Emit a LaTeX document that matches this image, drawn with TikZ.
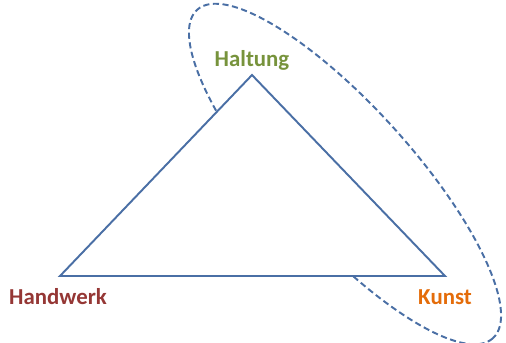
\documentclass[tikz,border=0pt]{standalone}
\usepackage{fontspec}
\setmainfont{Carlito}
\definecolor{lineblue}{HTML}{4A6FA5}
\definecolor{hgreen}{HTML}{77933C}
\definecolor{hred}{HTML}{953735}
\definecolor{korange}{HTML}{E46C0A}
\tikzset{
  lbl/.style={font=\fontsize{13}{15}\selectfont\bfseries, inner sep=0pt},
  tri/.style={draw=lineblue, line width=1.1pt, line join=miter, fill=white},
  oval/.style={draw=lineblue, line width=1.1pt, dash pattern=on 3.5pt off 2pt}
}
\begin{document}
\begin{tikzpicture}[x=0.02cm,y=-0.02cm]
\useasboundingbox (0,0) rectangle (506,342);
\coordinate (top) at (252,75);
\coordinate (left) at (60,276);
\coordinate (right) at (445,276);
\draw[oval, rotate around={-48:(345,174)}] (345,174) ellipse [x radius=221, y radius=67];
\draw[tri] (top) -- (right) -- (left) -- cycle;
\node[lbl, text=hgreen] (haltung) at (252,60) {Haltung};
\node[lbl, text=hred] (handwerk) at (58,297) {Handwerk};
\node[lbl, text=korange] (kunst) at (445,297) {Kunst};
\end{tikzpicture}
\end{document}
